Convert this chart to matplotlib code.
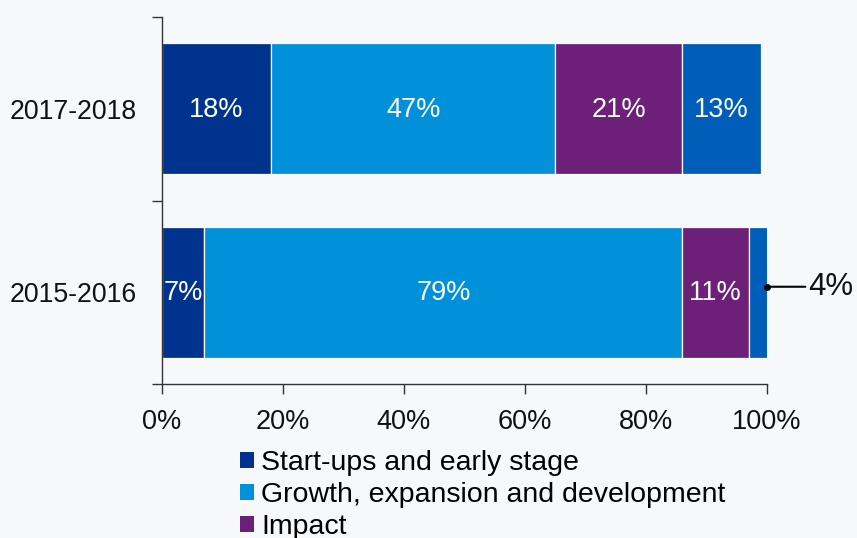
import matplotlib
matplotlib.use("Agg")
import matplotlib.pyplot as plt
from matplotlib.patches import Patch

plt.rcParams['font.family'] = ['Liberation Sans', 'DejaVu Sans']

periods = ["2015-2016", "2017-2018"]
series_names = ["Start-ups and early stage",
                "Growth, expansion and development",
                "Impact",
                "Other"]
values = {
    "Start-ups and early stage": [7, 18],
    "Growth, expansion and development": [79, 47],
    "Impact": [11, 21],
    "Other": [4, 13],
}
colors = ["#00338D", "#0091DA", "#6D2077", "#005EB8"]
x_ticks = [0, 20, 40, 60, 80, 100]
x_tick_labels = ["0%", "20%", "40%", "60%", "80%", "100%"]

bg = "#f7f8fa"
fig = plt.figure(figsize=(8.57, 5.38), dpi=100, facecolor=bg)
ax = fig.add_axes([162 / 857, 1 - 384 / 538, 605 / 857, 367 / 538])
ax.set_facecolor(bg)

ypos = list(range(len(periods)))
left = [0.0] * len(periods)
for name, col in zip(series_names, colors):
    vals = values[name]
    ax.barh(ypos, vals, left=left, height=0.714, color=col,
            edgecolor="white", linewidth=0.9)
    for i, v in enumerate(vals):
        if name == "Other" and v < 6:
            continue
        ax.text(left[i] + v / 2, ypos[i] - 0.005, f"{v}%", ha="center",
                va="center", color="white", fontsize=19.5)
    left = [l + v for l, v in zip(left, vals)]

# callout for the narrow last segment of 2015-2016
small = values["Other"][0]
ax.annotate(f"{small}%", xy=(100, 0.03), xytext=(106.8, 0.03),
            xycoords="data", textcoords="data", ha="left", va="center",
            fontsize=22.5, color="#111111", annotation_clip=False,
            arrowprops=dict(arrowstyle="-", color="black", lw=1.5,
                            shrinkA=0, shrinkB=0))
ax.plot([100], [0.03], marker="o", color="black", markersize=4,
        clip_on=False, zorder=5)

ax.set_xlim(0, 100)
ax.set_ylim(-0.5, 1.5)
ax.set_xticks(x_ticks)
ax.set_xticklabels(x_tick_labels, fontsize=19.5, color="#111111")
ax.set_yticks(ypos)
ax.set_yticklabels(periods, fontsize=19.2, color="#111111")
ax.tick_params(axis="y", which="major", length=0, pad=18)
ax.set_yticks([-0.5, 0.5, 1.5], minor=True)
ax.tick_params(axis="y", which="minor", length=7, width=1, color="#333333")
ax.tick_params(axis="x", length=7, width=1, color="#333333", pad=11)

for s in ["top", "right"]:
    ax.spines[s].set_visible(False)
for s in ["left", "bottom"]:
    ax.spines[s].set_color("#333333")
    ax.spines[s].set_linewidth(1)

handles = [Patch(facecolor=c, edgecolor="none") for c in colors[:3]]
fig.legend(handles, series_names[:3], loc="upper left",
           bbox_to_anchor=(240 / 857, 1 - 450 / 538), frameon=False,
           fontsize=20.5, handlelength=0.5, handleheight=0.5,
           handletextpad=0.25, labelspacing=0.21, borderaxespad=0,
           borderpad=0)

fig.savefig("out.png", dpi=100, facecolor=bg)
